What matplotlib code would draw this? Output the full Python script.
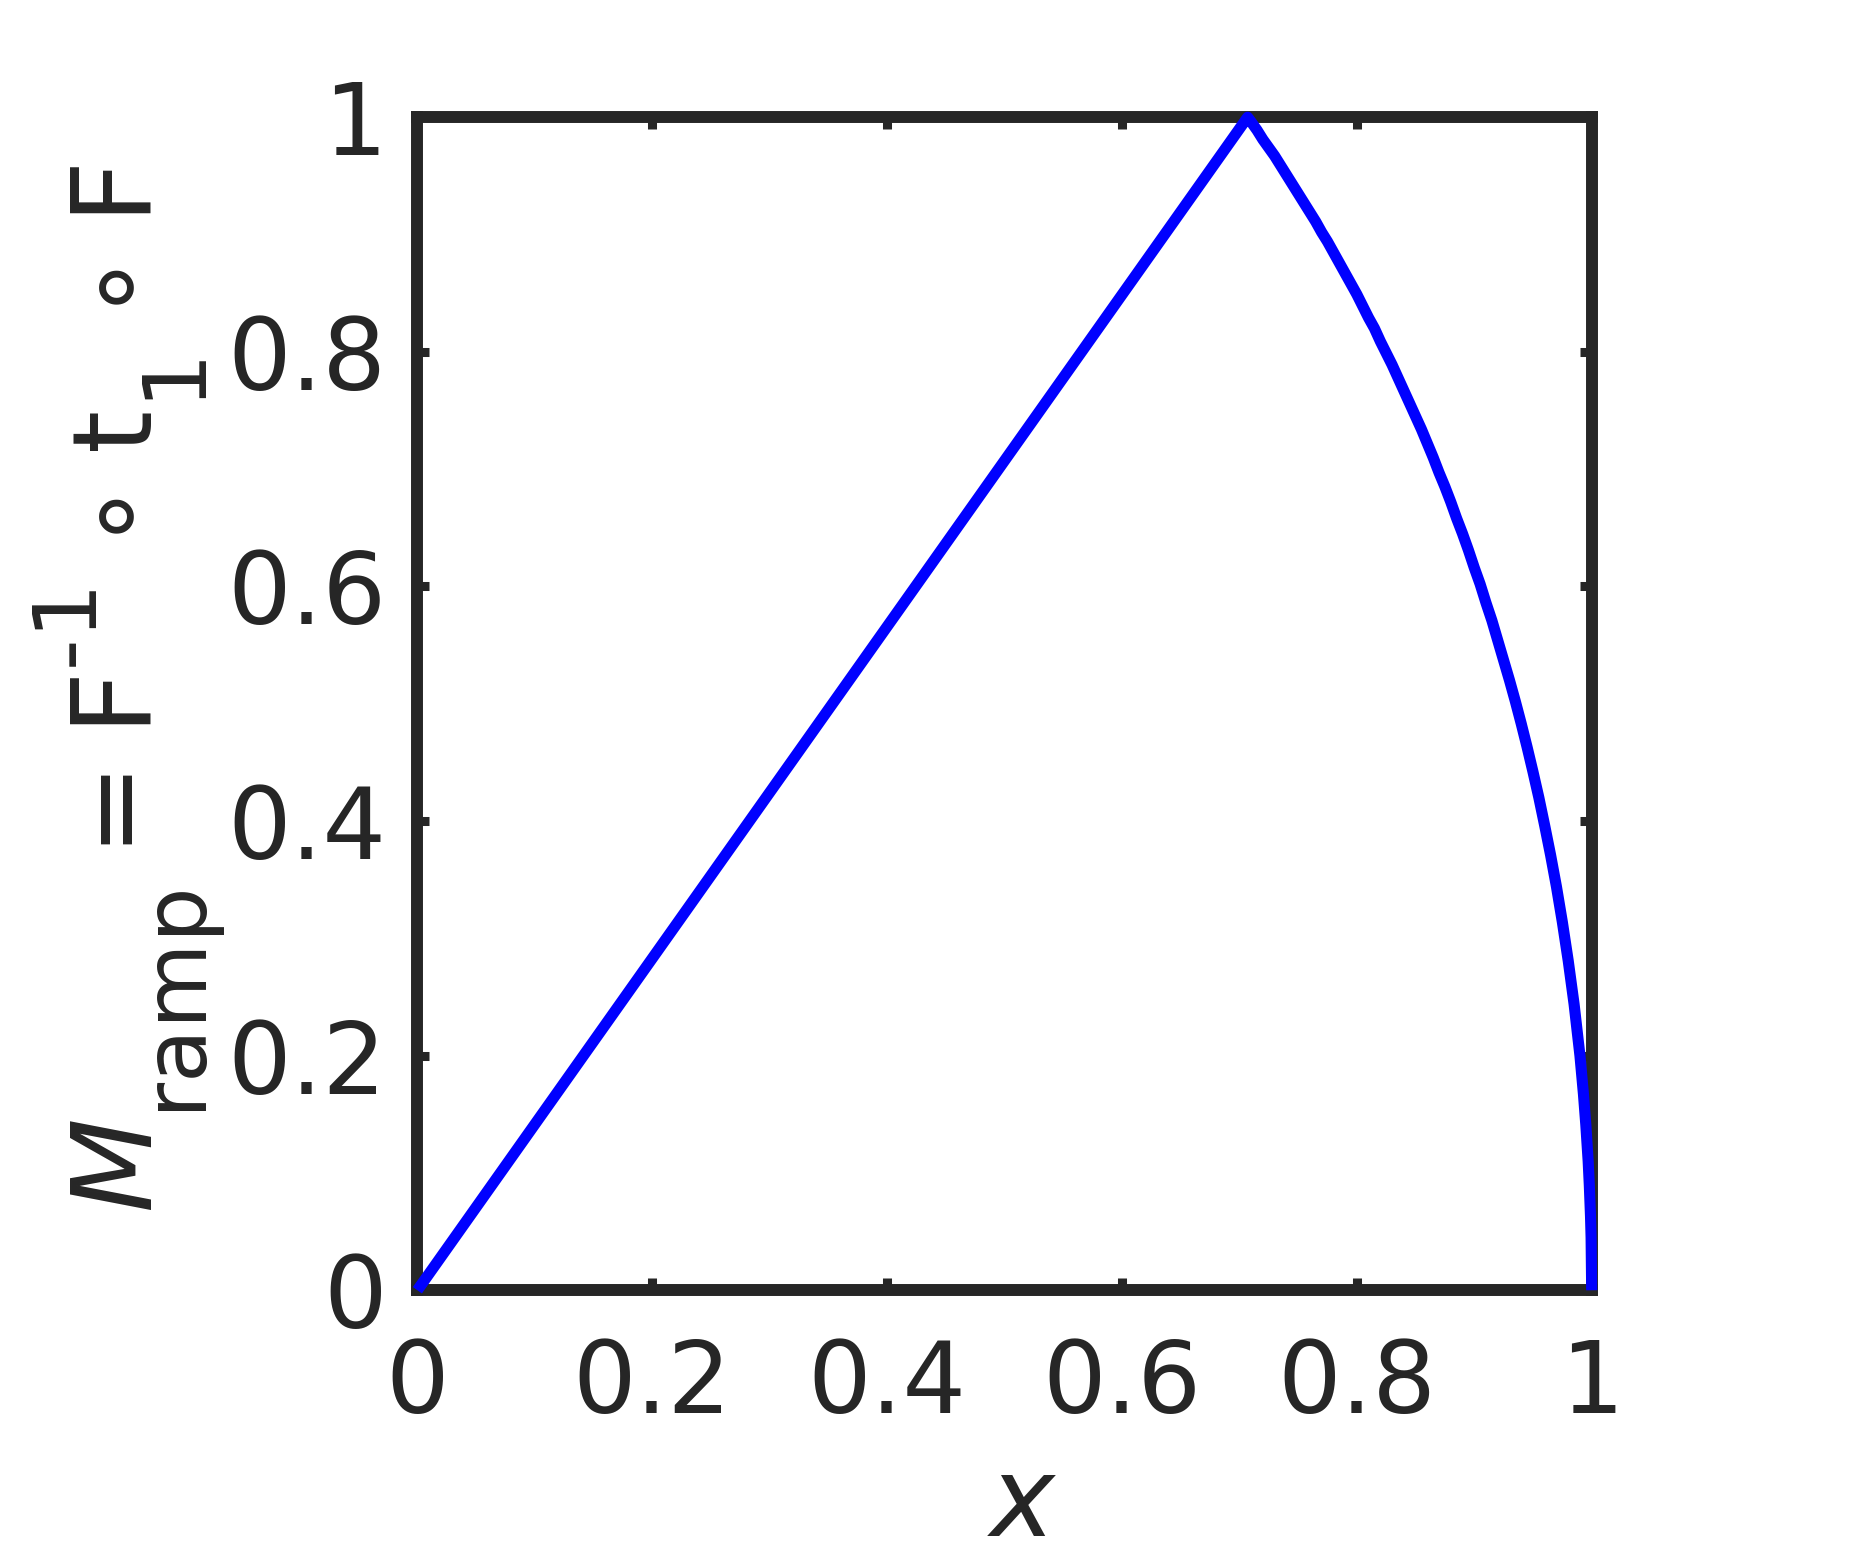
import numpy as np
import matplotlib
matplotlib.use("Agg")
import matplotlib.pyplot as plt
import matplotlib._mathtext as mathtext_internals

# values
x_vals = [0.0, 0.707, 0.71, 0.715, 0.72, 0.725, 0.73, 0.735, 0.74, 0.745, 0.75,
          0.755, 0.76, 0.765, 0.77, 0.775, 0.78, 0.785, 0.79, 0.795, 0.80,
          0.805, 0.81, 0.815, 0.82, 0.825, 0.83, 0.835, 0.84, 0.845, 0.85,
          0.855, 0.86, 0.865, 0.87, 0.875, 0.88, 0.885, 0.89, 0.895, 0.90,
          0.905, 0.91, 0.915, 0.92, 0.925, 0.93, 0.935, 0.94, 0.945, 0.95,
          0.955, 0.96, 0.965, 0.97, 0.975, 0.98, 0.985, 0.99, 0.993,
          0.995, 0.997, 0.998, 0.999, 0.9995, 1.0]
y_vals = [0.0, 1.0, 0.996, 0.989, 0.981, 0.974, 0.967, 0.959, 0.951, 0.943, 0.935,
          0.927, 0.919, 0.911, 0.902, 0.894, 0.885, 0.876, 0.867, 0.858, 0.849,
          0.839, 0.829, 0.820, 0.809, 0.799, 0.789, 0.778, 0.767, 0.756, 0.745,
          0.734, 0.722, 0.710, 0.697, 0.685, 0.672, 0.658, 0.645, 0.631, 0.616,
          0.602, 0.586, 0.571, 0.554, 0.537, 0.520, 0.502, 0.483, 0.463, 0.442,
          0.420, 0.396, 0.371, 0.344, 0.314, 0.281, 0.244, 0.200, 0.167,
          0.141, 0.110, 0.089, 0.063, 0.045, 0.0]

tick_vals = [0, 0.2, 0.4, 0.6, 0.8, 1]
tick_labels = ["0", "0.2", "0.4", "0.6", "0.8", "1"]

dark = "#262626"
plt.rcParams["font.family"] = ["DejaVu Sans"]
plt.rcParams["mathtext.fontset"] = "dejavusans"

# bigger, further shifted sub/superscripts like the reference label
try:
    mathtext_internals.SHRINK_FACTOR = 0.8
    mathtext_internals.DejaVuSansFontConstants.sub1 = 0.9
    mathtext_internals.DejaVuSansFontConstants.sup1 = 0.9
except AttributeError:
    pass

fig = plt.figure(figsize=(18.75, 15.63), dpi=100)
ax = fig.add_axes([0.2226, 0.1745, 0.8489 - 0.2226, 0.925 - 0.1745])

ax.plot(x_vals, y_vals, color=(0, 0, 1), lw=8, zorder=3, clip_on=False,
        solid_capstyle="butt", solid_joinstyle="round")

ax.set_xlim(0, 1)
ax.set_ylim(0, 1)
ax.set_xticks(tick_vals)
ax.set_xticklabels(tick_labels)
ax.set_yticks(tick_vals)
ax.set_yticklabels(tick_labels)

for s in ax.spines.values():
    s.set_linewidth(8.6)
    s.set_color(dark)

ax.tick_params(axis="both", direction="in", length=8.6, width=6.5, color=dark,
               labelcolor=dark, labelsize=72, top=True, right=True)
ax.tick_params(axis="x", pad=34)
ax.tick_params(axis="y", pad=22)

ax.set_xlabel(r"$x$", fontsize=79, color=dark)
ax.xaxis.set_label_coords(0.515, -0.138)
sp = r"\hspace{0.07}"
ylab = (r"$\mathit{M}_{\mathrm{ramp}}" + sp + "=" + sp + r"\mathrm{F}^{\text{-1}}" + sp
        + r"\circ" + sp + r"\mathrm{t}_{\mathrm{1}}" + sp + r"\circ" + sp + r"\mathrm{F}$")
ax.set_ylabel(ylab, fontsize=79, color=dark)
ax.yaxis.set_label_coords(-0.161, 0.513)

fig.savefig("out.png", dpi=100, facecolor="white")
